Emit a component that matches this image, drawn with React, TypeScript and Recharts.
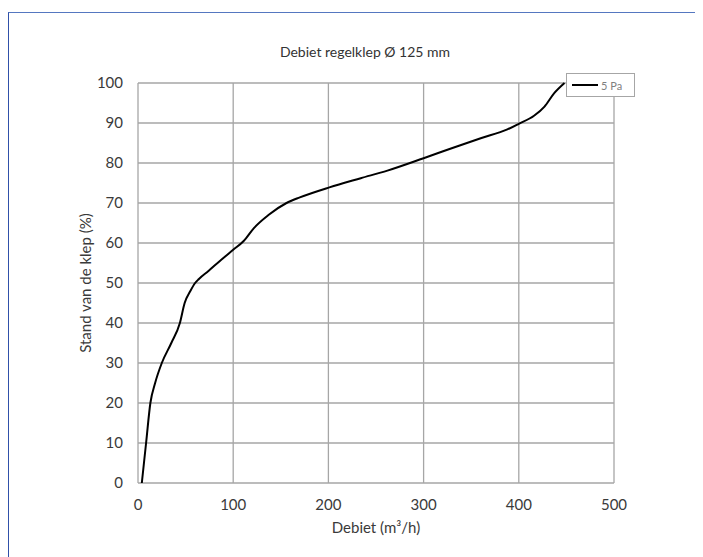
import React from "react";
import { LineChart, Line, XAxis, YAxis, CartesianGrid } from "recharts";

const debiet = [4, 8.5, 13, 18, 25, 35, 44, 49, 55, 60, 64, 74, 86, 100, 111, 122, 137, 156, 170, 201, 234, 262, 300, 325, 360, 388, 400, 416, 427, 437, 448];
const stand = [0, 10, 20, 25, 30, 35, 40, 45, 48, 50, 51, 53, 55.5, 58.3, 60.5, 63.8, 67, 70, 71.4, 73.9, 76.2, 78.1, 81.2, 83.3, 86.2, 88.4, 89.8, 91.8, 94.1, 97.4, 100];
const xTicks = [0, 100, 200, 300, 400, 500];
const yTicks = [0, 10, 20, 30, 40, 50, 60, 70, 80, 90, 100];
const seriesName = "5 Pa";
const title = "Debiet regelklep Ø 125 mm";
const xTitle = "Debiet (m³/h)";
const yTitle = "Stand van de klep (%)";

const data = debiet.map((d, i) => ({ x: d, y: stand[i] }));

const FONT = "Lato, 'Open Sans', sans-serif";
const TEXT = "#3a3a3a";

export default function App() {
  return (
    <div style={{ position: "relative", width: 695, height: 549, fontFamily: FONT }}>
      <div
        style={{
          position: "absolute",
          left: 0,
          top: 4,
          width: 700,
          height: 560,
          borderTop: "1px solid #5577c0",
          borderLeft: "1px solid #3050a8",
        }}
      />
      <LineChart
        width={695}
        height={549}
        data={data}
        margin={{ top: 75, right: 89, bottom: 44, left: 70 }}
        style={{ position: "absolute", left: 0, top: 0 }}
      >
        <CartesianGrid stroke="#a6a6a6" strokeWidth={1.3} />
        <XAxis
          type="number"
          dataKey="x"
          domain={[0, 500]}
          ticks={xTicks}
          axisLine={false}
          tickLine={false}
          tickSize={0}
          tickMargin={16}
          height={30}
          tick={{ fill: TEXT, fontSize: 15, fontFamily: FONT }}
        />
        <YAxis
          type="number"
          dataKey="y"
          domain={[0, 100]}
          ticks={yTicks}
          axisLine={false}
          tickLine={false}
          tickSize={0}
          tickMargin={15}
          width={60}
          tick={{ fill: TEXT, fontSize: 15, fontFamily: FONT }}
        />
        <Line
          name={seriesName}
          type="monotone"
          dataKey="y"
          stroke="#000"
          strokeWidth={2}
          dot={false}
          isAnimationActive={false}
        />
      </LineChart>
      <div
        style={{
          position: "absolute",
          left: 558,
          top: 65,
          width: 67,
          height: 22,
          border: "1px solid #a6a6a6",
          background: "#fff",
          display: "flex",
          alignItems: "center",
          fontSize: 11,
          color: "#7f7f7f",
        }}
      >
        <div style={{ width: 26, height: 2, background: "#000", marginLeft: 5, marginRight: 3 }} />
        <span>{seriesName}</span>
      </div>
      <div
        style={{
          position: "absolute",
          left: 237,
          width: 240,
          top: 35,
          height: 18,
          lineHeight: "18px",
          textAlign: "center",
          fontSize: 14,
          color: "#333",
        }}
      >
        {title}
      </div>
      <div
        style={{
          position: "absolute",
          left: 268,
          width: 200,
          top: 510,
          height: 18,
          lineHeight: "18px",
          textAlign: "center",
          fontSize: 15,
          color: TEXT,
        }}
      >
        {xTitle}
      </div>
      <div
        style={{
          position: "absolute",
          left: -13,
          top: 266,
          width: 180,
          height: 18,
          lineHeight: "18px",
          textAlign: "center",
          fontSize: 15,
          color: TEXT,
          transform: "rotate(-90deg)",
        }}
      >
        {yTitle}
      </div>
    </div>
  );
}
